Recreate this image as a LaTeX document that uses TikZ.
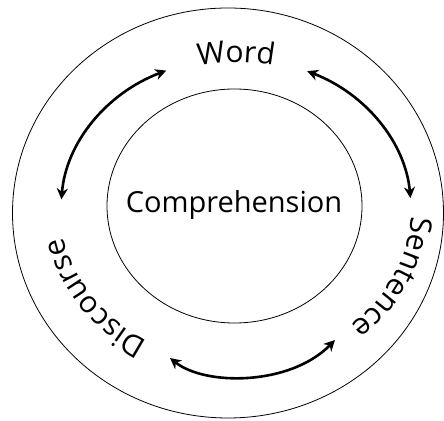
\documentclass[tikz,border=0pt]{standalone}
\usepackage{fontspec}
\setmainfont{Open Sans}
\usetikzlibrary{arrows.meta,decorations.text,calc}
\tikzset{
  ring/.style={line width=0.8pt},
  ringarrow/.style={line width=2.6pt,
    {Stealth[length=11pt,width=11pt,inset=3.5pt]}-{Stealth[length=11pt,width=11pt,inset=3.5pt]}},
  ringlabel/.style={decorate,decoration={text along path,text align=center,
    text={|\fontsize{30}{36}\selectfont|#1}}}
}

\begin{document}
\begin{tikzpicture}[x=1pt,y=1pt]
\useasboundingbox (0,0) rectangle (444,420);
\coordinate (mid) at (236,210);
\draw[ring] (228,207) ellipse [x radius=215.5pt,y radius=205pt];
\draw[ring] (234.5,214) ellipse [x radius=127.5pt,y radius=117pt];
\node (core) at (234,215) {\fontsize{29}{34}\selectfont Comprehension};
% labels round the ring
\path[ringlabel=Word,decoration={raise=-4pt}] ($(mid)+(130:175pt and 152pt)$)
  arc[start angle=130,end angle=50,x radius=175pt,y radius=152pt];
\path[ringlabel=Sentence] ($(mid)+(15:175pt and 152pt)$)
  arc[start angle=15,end angle=-65,x radius=175pt,y radius=152pt];
\path[ringlabel=Discourse] ($(mid)+(254:175pt and 152pt)$)
  arc[start angle=254,end angle=174,x radius=175pt,y radius=152pt];
% arrows
\draw[ringarrow] ($(mid)+(113.5:175pt and 152pt)$)
  arc[start angle=113.5,end angle=176,x radius=175pt,y radius=152pt];
\draw[ringarrow] ($(mid)+(66:175pt and 152pt)$)
  arc[start angle=66,end angle=4.5,x radius=175pt,y radius=152pt];
\coordinate (dleft) at (170,62);
\coordinate (dright) at (335,80);
\draw[ringarrow] (dleft) .. controls (205,34) and (290,34) .. (dright);
\end{tikzpicture}
\end{document}
